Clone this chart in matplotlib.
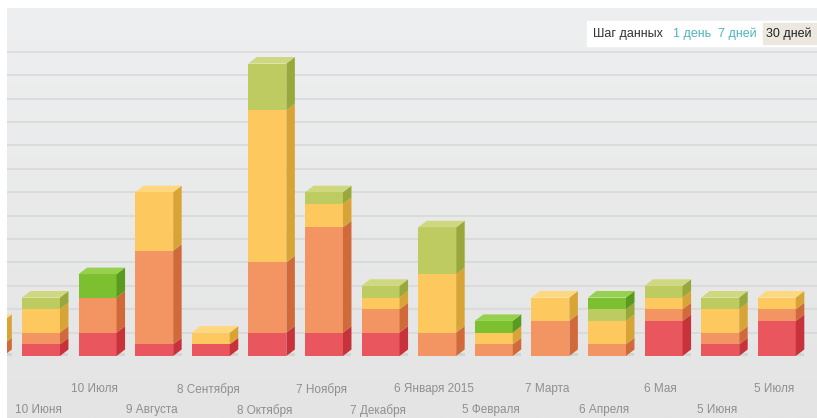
import matplotlib.pyplot as plt
from matplotlib.patches import Polygon, Rectangle
from matplotlib.colors import LinearSegmentedColormap
import numpy as np

plt.rcParams['font.family'] = ['Liberation Sans', 'DejaVu Sans']

# 30-day steps, first bar is the month before "10 Июня"
dates = ['10 Мая', '10 Июня', '10 Июля', '9 Августа', '8 Сентября', '8 Октября',
         '7 Ноября', '7 Декабря', '6 Января 2015', '5 Февраля', '7 Марта',
         '6 Апреля', '6 Мая', '5 Июня', '5 Июля']

red    = [0, 1, 2, 1, 1, 2, 2, 2, 0, 0, 0, 0, 3, 1, 3]
orange = [1, 1, 3, 8, 0, 6, 9, 2, 2, 1, 3, 1, 1, 1, 1]
yellow = [2, 2, 0, 5, 1, 13, 2, 1, 5, 1, 2, 2, 1, 2, 1]
olive  = [0, 1, 0, 0, 0, 4, 1, 1, 4, 0, 0, 1, 1, 1, 0]
green  = [0, 0, 2, 0, 0, 0, 0, 0, 0, 1, 0, 1, 0, 0, 0]

series = [red, orange, yellow, olive, green]
# front, side, top shades
colors = [('#ea565d', '#c7323b', '#f27880'),
          ('#f39463', '#d16a3b', '#f7ab80'),
          ('#fdc95f', '#d9a436', '#ffd87e'),
          ('#bdcb60', '#98a83a', '#cfd87e'),
          ('#7cc030', '#5a9a1e', '#97d04e')]

W, H = 817, 418
fig = plt.figure(figsize=(W / 100, H / 100), dpi=100)
fig.patch.set_facecolor('white')

# grey gradient panel
bg = fig.add_axes([7 / W, 0, 810 / W, 410 / H])
grad = np.linspace(0, 1, 256).reshape(-1, 1)
bg.imshow(grad, aspect='auto', cmap=LinearSegmentedColormap.from_list('bg', ['#eeeff0', '#e4e4e4']),
          extent=[0, 1, 0, 1], origin='upper')
bg.axis('off')

unit = 11.7  # px per value
ax = fig.add_axes([7 / W, (H - 356) / H, 810 / W, 348 / H])
ax.patch.set_alpha(0)
for s in ax.spines.values():
    s.set_visible(False)
ax.set_yticks([])

for v in range(2, 27, 2):
    ax.axhline(v, color='#d6d7d8', lw=1.1, zorder=0)

bw = 0.671
dx = 8.5 / 56.6
dy = 6.5 / unit
x = np.arange(len(dates))
bottom = np.zeros(len(dates))
for vals, (cf, cs, ct) in zip(series, colors):
    vals = np.array(vals, dtype=float)
    ax.bar(x, vals, bw, bottom=bottom, color=cf, lw=0, zorder=2)
    for i in range(len(x)):
        if vals[i] == 0:
            continue
        b, t = bottom[i], bottom[i] + vals[i]
        r = x[i] + bw / 2
        ax.add_patch(Polygon([(r, b), (r + dx, b + dy), (r + dx, t + dy), (r, t)],
                             closed=True, color=cs, lw=0, zorder=2))
    bottom += vals

# top faces take the colour of the highest segment
stack = np.array(series, dtype=float)
for i in range(len(x)):
    top_idx = np.nonzero(stack[:, i])[0][-1]
    T = bottom[i]
    l, r = x[i] - bw / 2, x[i] + bw / 2
    ax.add_patch(Polygon([(l, T), (l + dx, T + dy), (r + dx, T + dy), (r, T)],
                         closed=True, color=colors[top_idx][2], lw=0, zorder=2))
    # soft shadow under each bar
    ax.add_patch(Rectangle((l + 0.02, -0.12), bw + dx - 0.02, 0.12 + dy * 0.4,
                           color='#000000', alpha=0.08, lw=0, zorder=1))

# date labels in two staggered rows
ax.set_xticks(x[0::2] - 0.05)
ax.set_xticklabels(dates[0::2])
ax.set_xticks(x[1::2] - 0.05, minor=True)
ax.set_xticklabels(dates[1::2], minor=True)
ax.tick_params(axis='x', which='major', length=0, pad=19.5, labelsize=8.5, labelcolor='#8f8f8f')
ax.tick_params(axis='x', which='minor', length=0, pad=34.5, labelsize=8.5, labelcolor='#8f8f8f')

ax.set_xlim(0.4, 14.71)
ax.set_ylim(0, 348 / unit)

# data step selector
fig.patches.append(Rectangle((587 / W, 1 - 46 / H), 230 / W, 25 / H,
                             transform=fig.transFigure, color='white', zorder=5))
fig.patches.append(Rectangle((763 / W, 1 - 44 / H), 54 / W, 21 / H,
                             transform=fig.transFigure, color='#ece8e0', zorder=6))
ty = 1 - 34 / H
fig.text(593 / W, ty, 'Шаг данных', fontsize=9, color='#333333', va='center', zorder=7)
fig.text(673 / W, ty, '1 день', fontsize=9, color='#4ab5be', va='center', zorder=7)
fig.text(718 / W, ty, '7 дней', fontsize=9, color='#4ab5be', va='center', zorder=7)
fig.text(766 / W, ty, '30 дней', fontsize=9, color='#222222', va='center', zorder=7)

fig.savefig('out.png', dpi=100)
